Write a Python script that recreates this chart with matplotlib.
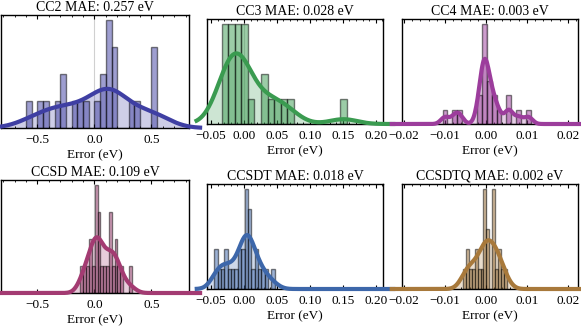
import numpy as np
import matplotlib
matplotlib.use("Agg")
import matplotlib.pyplot as plt
from matplotlib.ticker import MultipleLocator, AutoMinorLocator

# ====== DATA ======
methods = ["CC2", "CC3", "CC4", "CCSD", "CCSDT", "CCSDTQ"]
mae = [0.257, 0.028, 0.003, 0.109, 0.018, 0.002]

# histogram: first bin edge, bin width, counts per bin
cc2_start, cc2_width = -0.6, 0.05
cc2_counts = [1, 0, 1, 1, 0, 1, 2, 0, 1, 1, 1, 0, 1, 2, 4, 3, 0, 0, 1, 1, 0, 0, 3]

cc3_start, cc3_width = -0.034, 0.01
cc3_counts = [4, 4, 4, 4, 1, 0, 2, 1, 1, 1, 1, 0, 0, 0, 0, 0, 0, 0, 1]

cc4_start, cc4_width = -0.0106, 0.0012
cc4_counts = [1, 0, 1, 1, 0, 0, 0, 2, 7, 3, 2, 1, 0, 2, 0, 1, 0, 1]

ccsd_start, ccsd_width = -0.123, 0.025
ccsd_counts = [1, 1, 1, 2, 1, 4, 3, 1, 1, 1, 3, 1, 2, 1, 1, 0, 0, 1]

ccsdt_start, ccsdt_width = -0.045, 0.0051
ccsdt_counts = [2, 1, 1, 2, 1, 1, 1, 2, 2, 5, 4, 1, 2, 1, 1, 1, 0, 1]

ccsdtq_start, ccsdtq_width = -0.0057, 0.00073
ccsdtq_counts = [1, 2, 1, 1, 2, 1, 1, 5, 3, 0, 5, 1, 2, 1, 1]

hists = [
    (cc2_start, cc2_width, cc2_counts),
    (cc3_start, cc3_width, cc3_counts),
    (cc4_start, cc4_width, cc4_counts),
    (ccsd_start, ccsd_width, ccsd_counts),
    (ccsdt_start, ccsdt_width, ccsdt_counts),
    (ccsdtq_start, ccsdtq_width, ccsdtq_counts),
]

colors = ["#3f3fa3", "#3a9b50", "#9c3d9c", "#a33b72", "#3d67aa", "#a8793b"]

# x-range / tick step per column
col_xlim = [(-0.82, 0.83), (-0.056, 0.211), (-0.0205, 0.0225)]
col_major = [0.5, 0.05, 0.01]

plt.rcParams["font.family"] = ["Liberation Serif", "DejaVu Serif"]

W, H = 581, 329
fig = plt.figure(figsize=(W / 100, H / 100), dpi=100)

# axes boxes in pixels (x0, y0, x1, y1)
boxes = [
    (1, 15, 189, 128), (207, 19, 383, 124), (402, 19, 578, 124),
    (1, 180, 189, 293), (207, 184, 383, 289), (402, 184, 578, 289),
]


def kde(samples, grid):
    # gaussian kde, scott bandwidth with robust spread (statsmodels style)
    samples = np.asarray(samples)
    n = len(samples)
    q75, q25 = np.percentile(samples, [75, 25])
    a = min(samples.std(ddof=1), (q75 - q25) / 1.349)
    bw = 1.059 * a * n ** (-1 / 5)
    z = (grid[:, None] - samples[None, :]) / bw
    return np.exp(-0.5 * z ** 2).sum(axis=1) / (n * bw * np.sqrt(2 * np.pi))


for i, (name, err, (start, width, counts), color, box) in enumerate(
        zip(methods, mae, hists, colors, boxes)):
    col = i % 3
    x0, y0, x1, y1 = box
    ax = fig.add_axes([x0 / W, 1 - y1 / H, (x1 - x0) / W, (y1 - y0) / H])

    counts = np.array(counts)
    edges = start + width * np.arange(len(counts) + 1)
    centers = 0.5 * (edges[:-1] + edges[1:])
    samples = np.repeat(centers, counts)

    lo, hi = col_xlim[col]
    span = hi - lo
    grid = np.linspace(lo - 0.07 * span, hi + 0.07 * span, 300)
    dens = kde(samples, grid)

    ax.axvline(0, color="#d0d0d0", lw=0.8, zorder=0)
    ax.fill_between(grid, dens, color=color, alpha=0.25, lw=0, zorder=1)
    ax.hist(samples, bins=edges, density=True, color=color, alpha=0.5,
            edgecolor="black", linewidth=1.0, zorder=2)
    ax.plot(grid, dens, color=color, lw=3, zorder=3, clip_on=False,
            solid_capstyle="butt")

    hmax = (counts.max() / (counts.sum() * width))
    ax.set_ylim(0, hmax * 1.05)
    ax.set_xlim(lo, hi)
    ax.set_yticks([])
    ax.xaxis.set_major_locator(MultipleLocator(col_major[col]))
    ax.xaxis.set_minor_locator(AutoMinorLocator())
    ax.tick_params(axis="x", which="both", direction="in", top=True,
                   labelsize=9.5, pad=4)
    ax.tick_params(axis="x", which="major", length=3)
    ax.tick_params(axis="x", which="minor", length=1.5)
    for sp in ax.spines.values():
        sp.set_linewidth(1.0)
    ax.set_xlabel("Error (eV)", fontsize=9.5, labelpad=3)
    ax.set_title(f"{name} MAE: {err:.3f} eV", fontsize=10, pad=3)

fig.savefig("out.png", dpi=100)
